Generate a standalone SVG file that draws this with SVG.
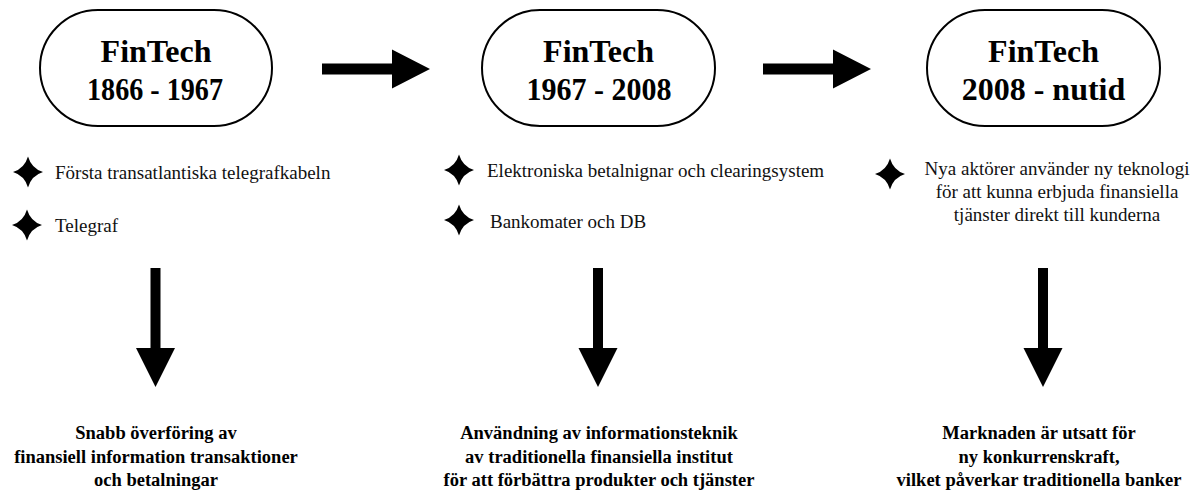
<svg xmlns="http://www.w3.org/2000/svg" width="1194" height="490" viewBox="0 0 1194 490">
  <defs>
    <!-- four-point star used as bullet -->
    <path id="star" d="M0,-15.5 Q3.5,-3.5 15,0 Q3.5,3.5 0,15.5 Q-3.5,3.5 -15,0 Q-3.5,-3.5 0,-15.5 Z"/>
    <!-- block arrows -->
    <path id="arrowRight" d="M0,-5.5 H70 V-19.5 L108,0 L70,19.5 V5.5 H0 Z"/>
    <path id="arrowDown" d="M-5,0 H5 V80 H19.5 L0,119 L-19.5,80 H-5 Z"/>
  </defs>
  <style>
    .pill { fill: #ffffff; stroke: #000000; stroke-width: 2; }
    .title { font-family: "Liberation Serif", "DejaVu Serif", serif; font-weight: bold; font-size: 32px; fill: #000000; text-anchor: middle; }
    .item { font-family: "Liberation Serif", "DejaVu Serif", serif; font-size: 19px; fill: #111111; }
    .mid { text-anchor: middle; }
    .result { font-family: "Liberation Serif", "DejaVu Serif", serif; font-weight: bold; font-size: 18.5px; fill: #000000; text-anchor: middle; }
    .solid { fill: #000000; }
  </style>
  <rect width="1194" height="490" fill="#ffffff"/>

  <!-- era 1 -->
  <g id="era1">
    <rect class="pill" x="40" y="10" width="232" height="116" rx="58" ry="58"/>
    <text class="title" x="156" y="62">FinTech</text>
    <text class="title" x="155" y="100" textLength="136" lengthAdjust="spacingAndGlyphs">1866 - 1967</text>
  </g>
  <g id="era1-items">
    <use href="#star" class="solid" x="28" y="172"/>
    <text class="item" x="55" y="179">Första transatlantiska telegrafkabeln</text>
    <use href="#star" class="solid" x="27" y="225"/>
    <text class="item" x="55" y="232">Telegraf</text>
  </g>
  <g id="era1-result">
    <text class="result" x="156" y="439">Snabb överföring av</text>
    <text class="result" x="156" y="462.5">finansiell information transaktioner</text>
    <text class="result" x="156" y="486">och betalningar</text>
  </g>

  <!-- era 2 -->
  <g id="era2">
    <rect class="pill" x="482" y="10" width="233" height="116" rx="58" ry="58"/>
    <text class="title" x="598.5" y="62">FinTech</text>
    <text class="title" x="599" y="100" textLength="145" lengthAdjust="spacingAndGlyphs">1967 - 2008</text>
  </g>
  <g id="era2-items">
    <use href="#star" class="solid" x="459" y="170"/>
    <text class="item" x="487" y="177">Elektroniska betalnignar och clearingsystem</text>
    <use href="#star" class="solid" x="459" y="220"/>
    <text class="item" x="490" y="228">Bankomater och DB</text>
  </g>
  <g id="era2-result">
    <text class="result" x="599" y="439">Användning av informationsteknik</text>
    <text class="result" x="599" y="462.5">av traditionella finansiella institut</text>
    <text class="result" x="599" y="486">för att förbättra produkter och tjänster</text>
  </g>

  <!-- era 3 -->
  <g id="era3">
    <rect class="pill" x="927" y="10" width="233" height="116" rx="58" ry="58"/>
    <text class="title" x="1043.5" y="62">FinTech</text>
    <text class="title" x="1043.5" y="100">2008 - nutid</text>
  </g>
  <g id="era3-items">
    <use href="#star" class="solid" x="890" y="174"/>
    <text class="item mid" x="1057" y="175">Nya aktörer använder ny teknologi</text>
    <text class="item mid" x="1057" y="198">för att kunna erbjuda finansiella</text>
    <text class="item mid" x="1057" y="221">tjänster direkt till kunderna</text>
  </g>
  <g id="era3-result">
    <text class="result" x="1039" y="439">Marknaden är utsatt för</text>
    <text class="result" x="1039" y="462.5">ny konkurrenskraft,</text>
    <text class="result" x="1039" y="486">vilket påverkar traditionella banker</text>
  </g>

  <!-- connectors -->
  <g id="connectors" class="solid">
    <use href="#arrowRight" x="322" y="69"/>
    <use href="#arrowRight" x="763" y="69"/>
    <use href="#arrowDown" x="155.5" y="268"/>
    <use href="#arrowDown" x="598" y="268"/>
    <use href="#arrowDown" x="1043" y="268"/>
  </g>
</svg>
